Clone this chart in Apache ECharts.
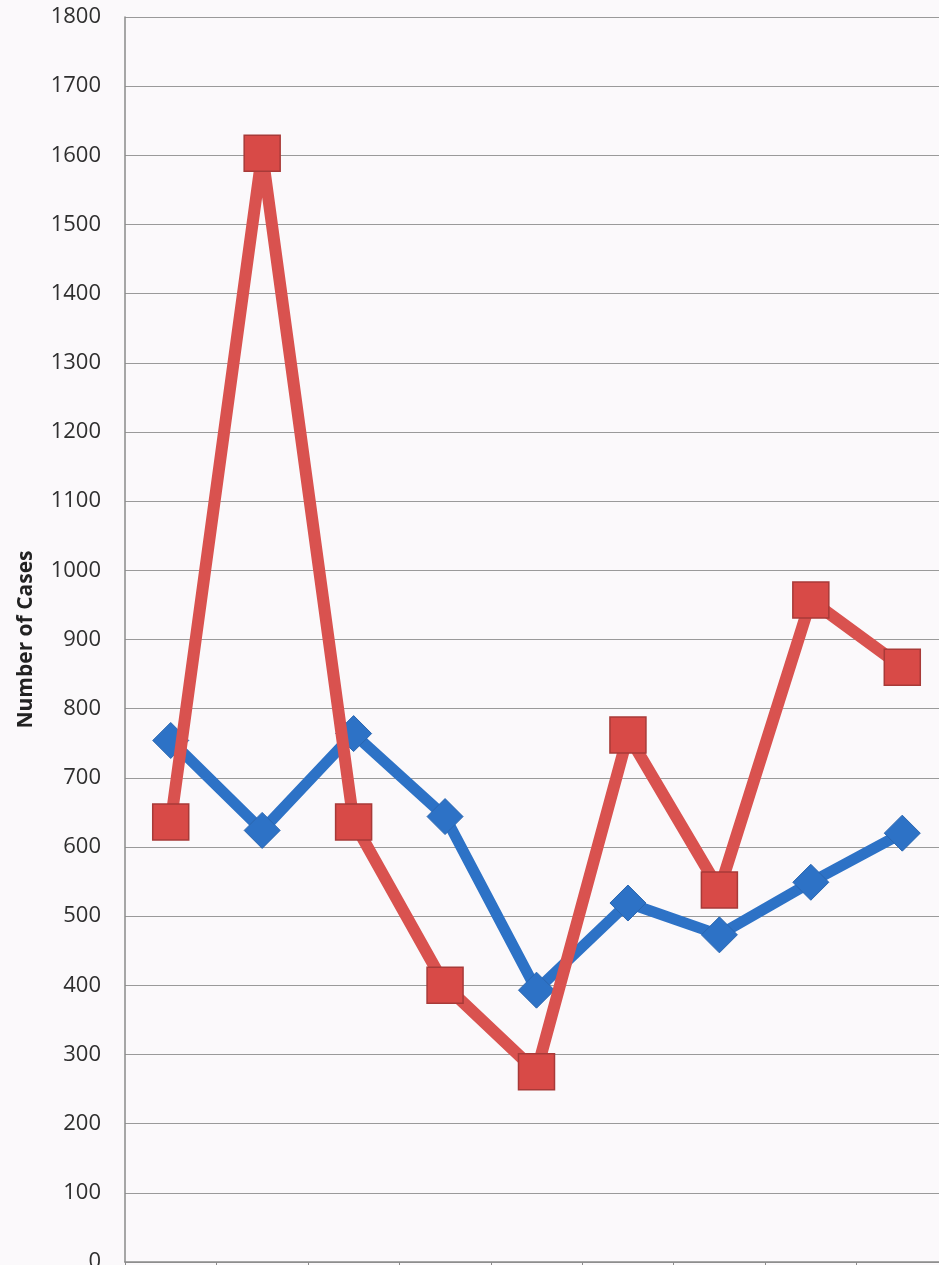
<!DOCTYPE html>
<html><head><meta charset="utf-8">
<script src="https://cdn.jsdelivr.net/npm/echarts@6/dist/echarts.min.js"></script>
<style>html,body{margin:0;padding:0;background:#fbf9fb;overflow:hidden;width:939px;height:1265px}#c{width:960px;height:1265px}</style>
</head><body><div id="c"></div>
<script>
var categories = ['1','2','3','4','5','6','7','8','9'];
var blueValues = [754, 624, 764, 644, 393, 519, 473, 549, 620];
var redValues = [636, 1603, 636, 400, 275, 762, 538, 957, 860];
var yTitle = 'Number of Cases';
var chart = echarts.init(document.getElementById('c'));
chart.setOption({
  backgroundColor: '#fbf9fb',
  animation: false,
  grid: {left: 125, right: 12, top: 17, bottom: 3, containLabel: false, outerBoundsMode: 'none'},
  xAxis: {
    type: 'category', data: categories, boundaryGap: true,
    axisLine: {lineStyle: {color: '#8a8a8a', width: 1.5}},
    axisTick: {show: true, length: 6, lineStyle: {color: '#8a8a8a'}},
    axisLabel: {show: false}
  },
  yAxis: {
    type: 'value', min: 0, max: 1800, interval: 100,
    name: yTitle, nameLocation: 'middle', nameGap: 88, nameRotate: 90,
    nameTextStyle: {fontFamily: 'Open Sans', fontWeight: 'bold', fontSize: 21, color: '#222'},
    axisLine: {show: true, lineStyle: {color: '#8a8a8a', width: 1.5}},
    axisTick: {show: false},
    axisLabel: {fontFamily: 'Open Sans', fontSize: 22, fontWeight: 500, color: '#2f2f2f', margin: 24,
      formatter: function (v) { return String(v); }},
    splitLine: {lineStyle: {color: '#9a9a9a', width: 1.2}}
  },
  series: [
    {type: 'line', data: blueValues, symbol: 'diamond', symbolSize: 36,
     lineStyle: {color: '#2d72c6', width: 11},
     itemStyle: {color: '#2d72c6', borderColor: '#2a66b0', borderWidth: 1}, z: 2},
    {type: 'line', data: redValues, symbol: 'rect', symbolSize: 36,
     lineStyle: {color: '#d9524f', width: 12},
     itemStyle: {color: '#d84a47', borderColor: '#a83a38', borderWidth: 1.5}, z: 3}
  ]
});
</script></body></html>
